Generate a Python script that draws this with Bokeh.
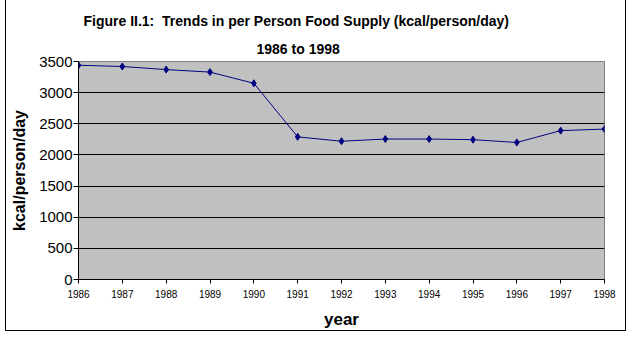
from bokeh.plotting import figure
from bokeh.embed import file_html
from bokeh.resources import INLINE
from bokeh.models import FixedTicker, Range1d, Title

years = [1986, 1987, 1988, 1989, 1990, 1991, 1992, 1993, 1994, 1995, 1996, 1997, 1998]
kcal = [3440, 3420, 3370, 3330, 3150, 2290, 2220, 2255, 2255, 2245, 2200, 2390, 2415]
y_ticks = [0, 500, 1000, 1500, 2000, 2500, 3000, 3500]
title_1 = "Figure II.1:\u00a0 Trends in per Person Food Supply (kcal/person/day)"
title_2 = "1986 to 1998"

p = figure(width=621, height=331, output_backend="svg", toolbar_location=None,
           x_range=Range1d(1986, 1998), y_range=Range1d(0, 3500),
           min_border_left=72, min_border_right=23, min_border_top=61, min_border_bottom=52)
p.styles = {"margin-left": "5px", "border-left": "1px solid black",
            "border-right": "1px solid black", "border-bottom": "1px solid black"}

p.title.text = title_1
p.title.align = "left"
p.title.offset = 5
p.title.text_font = "Liberation Sans"
p.title.text_font_size = "14px"
p.title.text_font_style = "bold"
p.title.text_color = "black"

t2 = Title(text=title_2, align="left", offset=178, text_font="Liberation Sans",
           text_font_size="14px", text_font_style="bold", text_color="black")
p.add_layout(t2, "above")

p.background_fill_color = "#C0C0C0"
p.border_fill_color = "white"
p.outline_line_color = "#808080"
p.outline_line_width = 1

p.xgrid.grid_line_color = None
p.ygrid.grid_line_color = "black"
p.ygrid.grid_line_width = 1
p.ygrid.ticker = FixedTicker(ticks=y_ticks)

p.xaxis.ticker = FixedTicker(ticks=years)
p.yaxis.ticker = FixedTicker(ticks=y_ticks)
for ax in (p.xaxis[0], p.yaxis[0]):
    ax.axis_line_color = "black"
    ax.major_tick_line_color = "black"
    ax.minor_tick_line_color = None
    ax.major_tick_in = 0
    ax.axis_label_text_font = "Liberation Sans"
    ax.axis_label_text_font_style = "bold"
    ax.major_label_text_font = "Liberation Sans"
    ax.major_label_text_color = "black"
    ax.axis_label_text_color = "black"

p.xaxis.axis_label = "year"
p.xaxis.axis_label_text_font_size = "17px"
p.xaxis.major_label_text_font_size = "10px"
p.xaxis.major_tick_out = 4
p.xaxis.major_label_standoff = 6
p.xaxis.axis_label_standoff = 9

p.yaxis.axis_label = "kcal/person/day"
p.yaxis.axis_label_text_font_size = "16px"
p.yaxis.major_label_text_font_size = "15px"
p.yaxis.major_tick_out = 5
p.yaxis.major_label_standoff = 1
p.yaxis.axis_label_standoff = 8

p.line(years, kcal, line_color="#000080", line_width=1)
p.scatter(years, kcal, marker="diamond", size=7, color="#000080")

open("out.html", "w").write(file_html(p, INLINE))
